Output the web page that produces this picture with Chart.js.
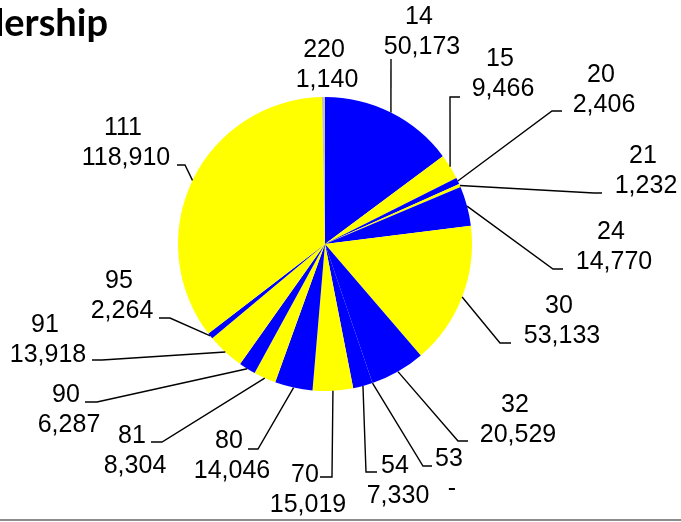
<!DOCTYPE html>
<html>
<head>
<meta charset="utf-8">
<script src="https://cdn.jsdelivr.net/npm/chart.js@4"></script>
<style>
  html, body { margin: 0; padding: 0; background: #fff; }
  #wrap { width: 681px; height: 522px; }
</style>
</head>
<body>
<div id="wrap"><canvas id="ridershipPie" width="681" height="522"></canvas></div>
<script>
// route numbers, clockwise from 12 o'clock
const routes = ['14', '15', '20', '21', '24', '30', '32', '53', '54', '70', '80', '81', '90', '91', '95', '111', '220'];
const riders = [50173, 9466, 2406, 1232, 14770, 53133, 20529, 0, 7330, 15019, 14046, 8304, 6287, 13918, 2264, 118910, 1140];

const BLUE = '#0000FF';
const YELLOW = '#FFFF00';
const sliceColors = [BLUE, YELLOW, BLUE, YELLOW, BLUE, YELLOW, BLUE, '#C0C0C0', BLUE, YELLOW, BLUE, YELLOW, BLUE, YELLOW, BLUE, YELLOW, '#C0C0C0'];

// where each label sits: x = centre of value line, y = baseline of route line,
// end = where the leader meets the label, elbow = bend of the leader
const labelLayout = [
	{ x: 422, y: 24,  end: [391, 59],  elbow: [391, 59] },
	{ x: 503, y: 66,  end: [460, 97],  elbow: [450, 97] },
	{ x: 604, y: 82,  end: [562, 111], elbow: [552, 111] },
	{ x: 646, y: 163, end: [602, 193], elbow: [594, 193] },
	{ x: 614, y: 239, end: [563, 269], elbow: [553, 269] },
	{ x: 562, y: 313, end: [511, 343], elbow: [500, 343] },
	{ x: 518, y: 412, end: [468, 441], elbow: [458, 441] },
	{ x: 452, y: 466, end: [432, 466], elbow: [423, 466] },
	{ x: 398, y: 473, end: [377, 472], elbow: [366, 472] },
	{ x: 308, y: 482, end: [320, 477], elbow: [332, 477] },
	{ x: 232, y: 448, end: [248, 449], elbow: [258, 449] },
	{ x: 135, y: 443, end: [151, 442], elbow: [162, 442] },
	{ x: 69,  y: 402, end: [85, 402],  elbow: [97, 402] },
	{ x: 48,  y: 332, end: [92, 360],  elbow: [102, 360] },
	{ x: 122, y: 288, end: [159, 318], elbow: [170, 318] },
	{ x: 126, y: 135, end: [177, 165], elbow: [185, 165] },
	{ x: 327, y: 57,  end: null,       elbow: null }
];

function fmt(v) {
	return v === 0 ? '-' : v.toLocaleString('en-US');
}

const pieLabels = {
	id: 'pieLabels',
	afterDraw(chart) {
		const ctx = chart.ctx;
		const arcs = chart.getDatasetMeta(0).data;
		ctx.save();

		// leader lines from the middle of each slice's rim
		ctx.strokeStyle = '#000';
		ctx.lineWidth = 1.4;
		arcs.forEach((arc, i) => {
			const lay = labelLayout[i];
			if (!lay.end) return;
			const p = arc.getProps(['x', 'y', 'startAngle', 'endAngle', 'outerRadius'], true);
			const mid = (p.startAngle + p.endAngle) / 2;
			const ax = p.x + Math.cos(mid) * p.outerRadius;
			const ay = p.y + Math.sin(mid) * p.outerRadius;
			ctx.beginPath();
			ctx.moveTo(ax, ay);
			ctx.lineTo(lay.elbow[0], lay.elbow[1]);
			ctx.lineTo(lay.end[0], lay.end[1]);
			ctx.stroke();
		});

		// two line labels: route, then riders
		ctx.fillStyle = '#000';
		ctx.font = '25px "Liberation Sans", Arial, sans-serif';
		ctx.textAlign = 'center';
		ctx.textBaseline = 'alphabetic';
		routes.forEach((r, i) => {
			const lay = labelLayout[i];
			ctx.fillText(r, lay.x - 3, lay.y);
			ctx.fillText(fmt(riders[i]), lay.x, lay.y + 30);
		});

		// title, cut at the left edge
		ctx.font = 'bold 38px Lato, "Open Sans", sans-serif';
		ctx.textAlign = 'right';
		ctx.fillText('Route Ridership', 108, 36);

		// bottom frame line
		ctx.fillStyle = '#8C8C8C';
		ctx.fillRect(0, 519, chart.width, 2);
		ctx.restore();
	}
};

new Chart(document.getElementById('ridershipPie').getContext('2d'), {
	type: 'pie',
	data: {
		labels: routes,
		datasets: [{
			data: riders,
			backgroundColor: sliceColors,
			borderWidth: 0
		}]
	},
	options: {
		responsive: false,
		animation: false,
		layout: {
			padding: { left: 178, right: 209, top: 97, bottom: 131 }
		},
		plugins: {
			legend: { display: false },
			tooltip: { enabled: false },
			title: { display: false }
		}
	},
	plugins: [pieLabels]
});
</script>
</body>
</html>
